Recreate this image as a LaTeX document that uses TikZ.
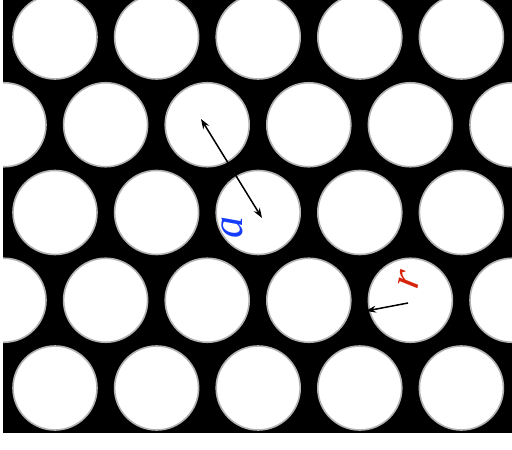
\documentclass[tikz,border=0pt]{standalone}
\usepackage{fontspec}
\setmainfont{Liberation Serif}
\usetikzlibrary{arrows.meta}
\definecolor{lblue}{RGB}{20,60,250}
\definecolor{lred}{RGB}{215,35,10}
\begin{document}
\begin{tikzpicture}[x=1pt,y=-1pt,
  hole/.style={circle, fill=white, draw=gray!60, line width=1.6pt, minimum size=84pt, inner sep=0pt},
  arr/.style={line width=1.5pt, black, >={Stealth[length=10pt,width=7pt]}},
  lbl/.style={inner sep=0pt, font=\fontsize{44}{44}\selectfont\itshape}]
\useasboundingbox (0,0) rectangle (512,450);
\fill[white] (0,0) rectangle (512,450);
\begin{scope}
  \clip (3,0) rectangle (512,433);
  \fill[black] (3,0) rectangle (512,433);
  \foreach \r in {0,...,4}{
    \pgfmathsetmacro\yy{37+87.75*\r}
    \pgfmathtruncatemacro\odd{mod(\r,2)}
    \ifnum\odd=0
      \foreach \k in {0,...,4}{\node[hole] (c\r\k) at ({55+101.6*\k},\yy) {};}
    \else
      \foreach \k in {0,...,5}{\node[hole] (c\r\k) at ({4+101.6*\k},\yy) {};}
    \fi
  }
\end{scope}
\coordinate (a1) at (201,119);
\coordinate (a2) at (262,218);
\draw[arr,<->] (a1) -- (a2);
\node[lbl, text=lblue, rotate=90] (la) at (232,227) {a};
\coordinate (r1) at (408,303);
\coordinate (r2) at (366,311);
\draw[arr,->] (r1) -- (r2);
\node[lbl, text=lred, rotate=78] (lr) at (409,280) {r};
\end{tikzpicture}
\end{document}
